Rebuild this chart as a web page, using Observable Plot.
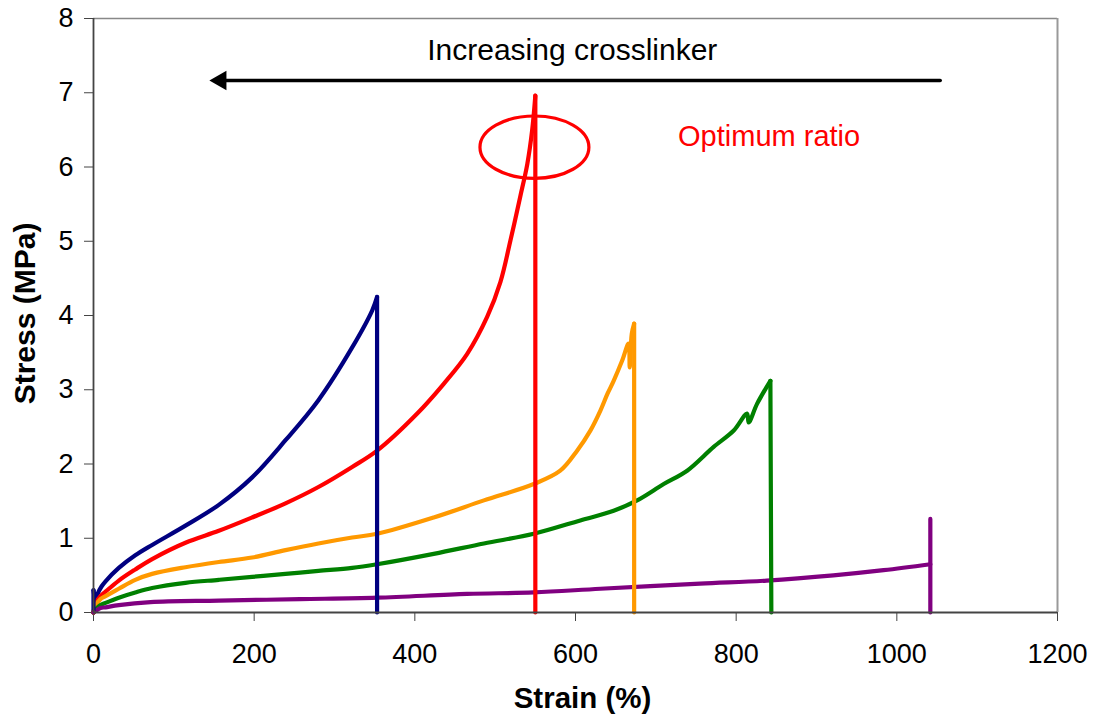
<!DOCTYPE html>
<html><head><meta charset="utf-8">
<script src="https://cdn.jsdelivr.net/npm/d3@7"></script>
<script src="https://cdn.jsdelivr.net/npm/@observablehq/plot@0.6"></script>
<style>body{margin:0;background:#fff;}</style>
</head><body><div id="chart"></div>
<script>
const xTicks = [0, 200, 400, 600, 800, 1000, 1200];
const yTicks = [0, 1, 2, 3, 4, 5, 6, 7, 8];

const blueX = [0, 0, 2.5, 5, 10, 15, 31.5, 52, 73, 114.5, 156, 197.5, 239, 280, 322, 347, 353, 353];
const blueY = [0, 0.3, 0.16, 0.25, 0.35, 0.42, 0.6, 0.77, 0.91, 1.17, 1.45, 1.82, 2.32, 2.86, 3.57, 4.07, 4.25, 0];

const redX = [0, 2.5, 8.7, 15, 31.5, 52, 73, 114.5, 156, 197.5, 239, 280, 322, 353, 403, 436, 465, 490, 506.5, 519, 531, 540, 546, 550, 550];
const redY = [0, 0.12, 0.22, 0.28, 0.43, 0.58, 0.72, 0.94, 1.1, 1.28, 1.47, 1.69, 1.96, 2.18, 2.68, 3.08, 3.48, 3.98, 4.45, 5.01, 5.59, 6.04, 6.49, 6.96, 0];

const orangeX = [0, 2.5, 8.7, 15, 31.5, 52, 73, 114.5, 156, 197.5, 239, 280, 322, 353, 423.5, 486, 548, 581, 602, 618.5, 631, 640, 647.5, 658, 666, 667.5, 670, 673, 673];
const orangeY = [0, 0.09, 0.18, 0.22, 0.32, 0.44, 0.52, 0.61, 0.68, 0.74, 0.84, 0.93, 1.01, 1.06, 1.28, 1.51, 1.73, 1.91, 2.18, 2.45, 2.72, 2.95, 3.12, 3.39, 3.62, 3.3, 3.75, 3.89, 0];

const greenX = [0, 2.5, 8.7, 15, 31.5, 52, 73, 114.5, 156, 197.5, 239, 280, 322, 353, 423.5, 486, 548, 606, 647.5, 676.7, 709.8, 739, 772, 797, 813.5, 815.6, 826, 842.6, 843.8];
const greenY = [0, 0.04, 0.1, 0.13, 0.2, 0.27, 0.33, 0.4, 0.44, 0.48, 0.52, 0.56, 0.6, 0.65, 0.79, 0.93, 1.06, 1.24, 1.37, 1.51, 1.73, 1.91, 2.23, 2.45, 2.68, 2.56, 2.81, 3.12, 0];

const purpleX = [0, 2.5, 8.7, 15, 31.5, 71, 156, 257, 353, 465, 548, 631, 755, 838, 921, 983.5, 1041.7, 1041.7, 1041.7];
const purpleY = [0, 0.02, 0.06, 0.07, 0.1, 0.14, 0.16, 0.18, 0.2, 0.25, 0.27, 0.32, 0.39, 0.43, 0.5, 0.57, 0.65, 1.26, 0];

const seriesNames = ["s1", "s2", "s3", "s4", "s5"];
const seriesColors = ["#000080", "#ff0000", "#ff9900", "#008000", "#800080"];
const seriesXs = [blueX, redX, orangeX, greenX, purpleX];
const seriesYs = [blueY, redY, orangeY, greenY, purpleY];
// index range of the smooth loading part of each curve; the rest (start spike, break drop) is straight
const smoothFrom = [1, 0, 0, 0, 0];
const smoothTo = [16, 23, 27, 27, 16];

// annotations
const arrowX = [1054, 160];
const arrowY = [7.165, 7.165];
const arrowHeadX = [158.4];
const arrowHeadY = [7.165];
const arrowLabel = ["Increasing crosslinker"];
const arrowLabelX = [596];
const arrowLabelY = [7.57];
const optLabel = ["Optimum ratio"];
const optLabelX = [841];
const optLabelY = [6.41];
const ellipseCX = 549.5, ellipseCY = 6.26, ellipseRX = 67.8, ellipseRY = 0.42;

const smoothRows = [], straightRows = [];
seriesNames.forEach((name, i) => {
  const xs = seriesXs[i], ys = seriesYs[i], a = smoothFrom[i], b = smoothTo[i];
  xs.forEach((x, j) => {
    const y = ys[j];
    if (j >= a && j <= b) smoothRows.push({series: name, x, y});
    if (j <= a) straightRows.push({series: name, part: name + "-head", x, y});
    if (j >= b) straightRows.push({series: name, part: name + "-tail", x, y});
  });
});

const FONT = "'Liberation Sans', Arial, sans-serif";

const plot = Plot.plot({
  width: 1096,
  height: 720,
  marginLeft: 93,
  marginRight: 39,
  marginTop: 18,
  marginBottom: 108,
  style: {fontFamily: FONT, background: "white", color: "black", overflow: "visible"},
  x: {domain: [0, 1200]},
  y: {domain: [0, 8]},
  color: {domain: seriesNames, range: seriesColors},
  marks: [
    Plot.ruleY([8], {stroke: "#888", strokeWidth: 1.5}),
    Plot.ruleX([1200], {stroke: "#999", strokeWidth: 2}),
    Plot.axisX({ticks: xTicks, tickSize: 9, tickPadding: 22, fontSize: 27, stroke: "#444", label: null, tickFormat: d => String(d)}),
    Plot.axisY({ticks: yTicks, tickSize: 9, tickPadding: 11, fontSize: 27, stroke: "#444", label: null, tickFormat: d => String(d)}),
    Plot.line(smoothRows, {x: "x", y: "y", z: "series", stroke: "series", strokeWidth: 4.2, curve: "catmull-rom", strokeLinejoin: "round", strokeLinecap: "round"}),
    Plot.line(straightRows, {x: "x", y: "y", z: "part", stroke: "series", strokeWidth: 4.2, curve: "linear", strokeLinejoin: "round", strokeLinecap: "round"}),
    Plot.ruleX([0], {stroke: "#444", strokeWidth: 1.8}),
    Plot.ruleY([0], {stroke: "#444", strokeWidth: 1.8}),
    Plot.line(arrowX.map((x, i) => ({x, y: arrowY[i]})), {x: "x", y: "y", stroke: "black", strokeWidth: 3.5}),
    Plot.dot(arrowHeadX.map((x, i) => ({x, y: arrowHeadY[i]})), {x: "x", y: "y", symbol: "triangle", r: 7.3, fill: "black", stroke: "none", rotate: -90}),
    Plot.text(arrowLabel, {x: arrowLabelX, y: arrowLabelY, fontSize: 30, fill: "black", textAnchor: "middle", lineAnchor: "middle"}),
    Plot.text(optLabel, {x: optLabelX, y: optLabelY, fontSize: 29, fill: "#ff0000", textAnchor: "middle", lineAnchor: "middle"}),
    (index, scales) => {
      const e = document.createElementNS("http://www.w3.org/2000/svg", "ellipse");
      const cx = scales.x(ellipseCX), cy = scales.y(ellipseCY);
      e.setAttribute("cx", cx);
      e.setAttribute("cy", cy);
      e.setAttribute("rx", Math.abs(scales.x(ellipseCX + ellipseRX) - cx));
      e.setAttribute("ry", Math.abs(scales.y(ellipseCY + ellipseRY) - cy));
      e.setAttribute("fill", "none");
      e.setAttribute("stroke", "#ff0000");
      e.setAttribute("stroke-width", 3.2);
      return e;
    },
    Plot.text(["Strain (%)"], {frameAnchor: "bottom", dx: 7, dy: 86, fontSize: 29.5, fontWeight: "bold", textAnchor: "middle", lineAnchor: "middle"}),
    Plot.text(["Stress (MPa)"], {frameAnchor: "left", dx: -68, dy: -2, rotate: -90, fontSize: 30, fontWeight: "bold", textAnchor: "middle", lineAnchor: "middle"})
  ]
});
document.getElementById("chart").appendChild(plot);
</script>
</body></html>
